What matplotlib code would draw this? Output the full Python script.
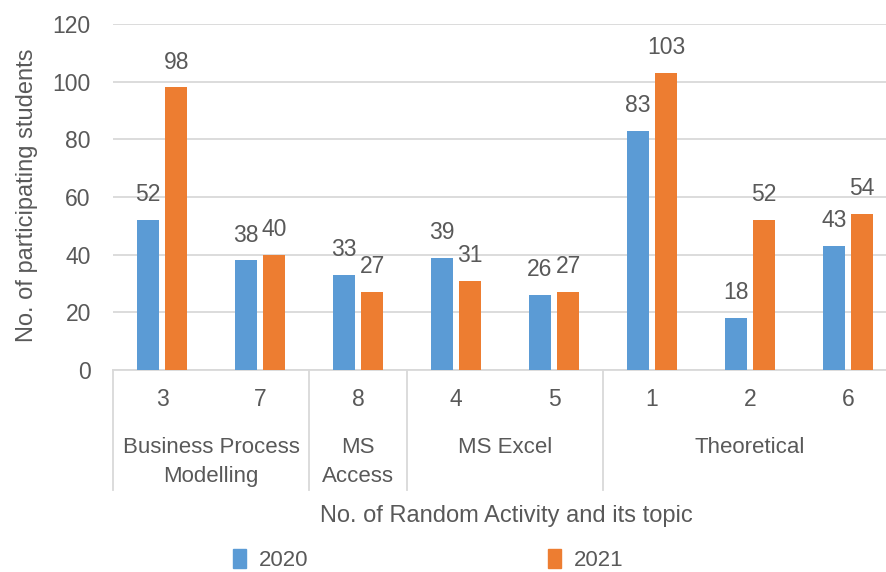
import matplotlib
matplotlib.use("Agg")
import matplotlib.pyplot as plt
import matplotlib.transforms as mtransforms
from matplotlib.patches import Patch

activities = ["3", "7", "8", "4", "5", "1", "2", "6"]
topics = ["Business Process\nModelling", "MS\nAccess", "MS Excel", "Theoretical"]
topic_sizes = [2, 1, 2, 3]
vals_2020 = [52, 38, 33, 39, 26, 83, 18, 43]
vals_2021 = [98, 40, 27, 31, 27, 103, 52, 54]
series = ["2020", "2021"]
yticks = [0, 20, 40, 60, 80, 100, 120]

plt.rcParams['font.family'] = ['Liberation Sans', 'DejaVu Sans']
TXT = "#595959"
GRID = "#d9d9d9"
C2020 = "#5b9bd5"
C2021 = "#ed7d31"
FS = 16.5

W, H = 887, 572
fig = plt.figure(figsize=(W / 100, H / 100), dpi=100)
ax = fig.add_axes([113 / W, 1 - 370 / H, 784 / W, 346 / H])

x = list(range(len(activities)))
bw = 0.225
off = 0.145
b1 = ax.bar([i - off for i in x], vals_2020, bw, color=C2020, zorder=3)
b2 = ax.bar([i + off for i in x], vals_2021, bw, color=C2021, zorder=3)
for bars in (b1, b2):
    ax.bar_label(bars, padding=10, color=TXT, fontsize=FS)

ax.set_xlim(-0.5, len(activities) - 0.5)
ax.set_ylim(0, 120)
ax.set_yticks(yticks)
ax.yaxis.grid(True, color=GRID, lw=1.3, zorder=0)
ax.tick_params(axis='y', length=0, labelsize=FS, labelcolor=TXT, pad=16)
ax.set_xticks(x)
ax.set_xticklabels(activities)
ax.tick_params(axis='x', length=0, labelsize=FS, labelcolor=TXT, pad=13)
for s in ['top', 'right', 'left']:
    ax.spines[s].set_visible(False)
ax.spines['bottom'].set_color(GRID)
ax.spines['bottom'].set_linewidth(1.3)

trans = mtransforms.blended_transform_factory(ax.transData, ax.transAxes)
sep_bottom = -(490 - 370) / 346
start = 0
bounds = [-0.5]
for name, n in zip(topics, topic_sizes):
    center = start + (n - 1) / 2
    ax.text(center, -(437 - 370) / 346, name, transform=trans, ha='center', va='top',
            fontsize=FS - 0.5, color=TXT, linespacing=1.5)
    start += n
    bounds.append(start - 0.5)
for b in bounds:
    ax.plot([b, b], [0, sep_bottom], transform=trans, color=GRID, lw=1.3, clip_on=False)

fig.text(506 / W, 1 - 516 / H, "No. of Random Activity and its topic", ha='center', va='center',
         fontsize=FS + 0.5, color=TXT)
fig.text(27 / W, 1 - 195 / H, "No. of participating students", ha='center', va='center',
         rotation=90, fontsize=FS + 0.5, color=TXT)

handles = [Patch(color=C2020), Patch(color=C2021)]
fig.legend(handles, series, loc='center', bbox_to_anchor=(428 / W, 1 - 560 / H), ncol=2,
           frameon=False, fontsize=FS - 0.5, labelcolor=TXT, handlelength=0.6, handleheight=0.9,
           handletextpad=0.55, columnspacing=10.8, borderpad=0.2)

fig.savefig("out.png", dpi=100)
